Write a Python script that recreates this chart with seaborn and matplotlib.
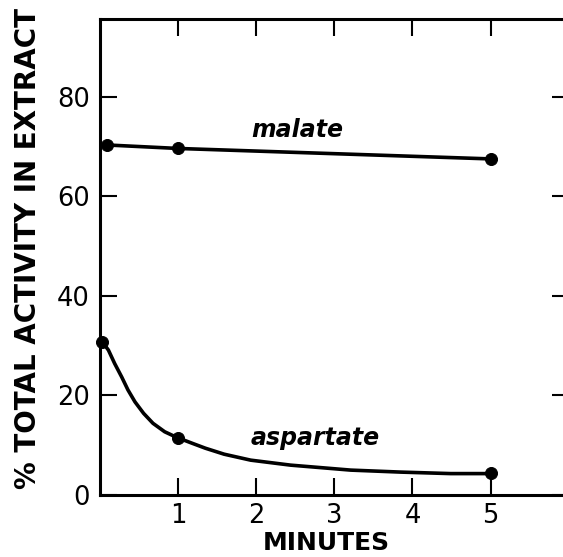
import matplotlib
matplotlib.use("Agg")
import matplotlib.pyplot as plt
import seaborn as sns

# Measured points (minutes, % of total activity in extract)
malate_min = [0.09, 1, 5]
malate_pct = [70.3, 69.6, 67.5]
aspartate_min = [0.03, 1, 5]
aspartate_pct = [30.8, 11.5, 4.4]

# Hand-drawn aspartate curve
curve_min = [0.03, 0.11, 0.19, 0.28, 0.36, 0.45, 0.56, 0.68, 0.83, 0.98,
             1.18, 1.35, 1.59, 1.93, 2.44, 3.21, 3.85, 4.49, 5.0]
curve_pct = [30.8, 29.1, 26.4, 23.7, 21.1, 18.7, 16.4, 14.4, 12.7, 11.6,
             10.4, 9.4, 8.2, 7.0, 6.0, 5.0, 4.6, 4.3, 4.3]

x_ticks = [1, 2, 3, 4, 5]
y_ticks = [0, 20, 40, 60, 80]

sns.set_style("ticks", {"text.color": "black", "xtick.color": "black",
                        "ytick.color": "black", "axes.edgecolor": "black",
                        "axes.labelcolor": "black"})
plt.rcParams['font.family'] = ['DejaVu Sans']

fig = plt.figure(figsize=(5.63, 5.57), dpi=100)
ax = fig.add_axes([0.1773, 0.1113, 0.8330, 0.8546])

# malate: straight line through the points
sns.lineplot(x=malate_min, y=malate_pct, ax=ax, color='black', linewidth=2.6,
             sort=False, estimator=None)
# aspartate: smooth decay curve
sns.lineplot(x=curve_min, y=curve_pct, ax=ax, color='black', linewidth=2.6,
             sort=False, estimator=None)
sns.scatterplot(x=malate_min + aspartate_min, y=malate_pct + aspartate_pct,
                ax=ax, color='black', s=75, edgecolor='black', zorder=5,
                clip_on=False)

ax.text(2.53, 71.9, 'malate', ha='center', va='baseline', fontsize=17,
        fontweight='bold', fontstyle='italic', color='black')
ax.text(2.76, 10.0, 'aspartate', ha='center', va='baseline', fontsize=17,
        fontweight='bold', fontstyle='italic', color='black')

ax.set_xlim(0, 6)
ax.set_ylim(0, 95.6)
ax.set_xticks(x_ticks)
ax.set_yticks(y_ticks)
ax.tick_params(direction='in', length=12, width=1.5, labelsize=18.5,
               top=True, right=True, pad=6, colors='black')
ax.tick_params(axis='x', which='both', top=True)
ax.tick_params(axis='y', pad=7)
for side in ax.spines.values():
    side.set_linewidth(2.2)
ax.spines['right'].set_visible(False)

ax.set_xlabel('MINUTES', fontsize=18, fontweight='bold')
ax.set_ylabel('% TOTAL ACTIVITY IN EXTRACT', fontsize=20, fontweight='bold')
ax.xaxis.set_label_coords(0.483, -0.075)
ax.yaxis.set_label_coords(-0.124, 0.518)

fig.savefig('out.png', dpi=100)
